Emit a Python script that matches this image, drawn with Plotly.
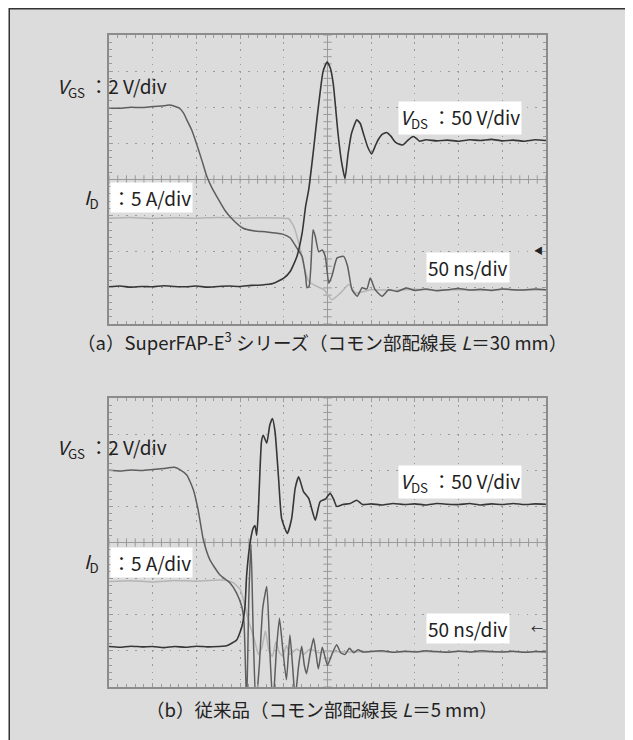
import numpy as np
import plotly.graph_objects as go

# ---------------- data (divisions) ----------------
# (a) SuperFAP-E3
T_VDS_A = [0,0.25,0.5,0.75,1,1.25,1.5,1.75,2,2.25,2.5,2.75,3,3.25,3.5,3.75,4.0,4.15,4.3,4.42,4.5,4.57,4.68,4.76,4.83,4.9,4.99,5.06,5.13,5.24,5.32,5.4,5.47,5.55,5.67,5.75,5.82,5.92,6.01,6.1,6.16,6.25,6.35,6.45,6.54,6.63,6.73,6.85,6.96,7.05,7.11,7.25,7.5,7.75,8,8.25,8.5,8.75,9,9.25,9.5,9.75,10]
V_VDS_A = [1.03,1.05,1.02,1.04,1.03,1.06,1.04,1.03,1.05,1.02,1.04,1.05,1.04,1.07,1.08,1.12,1.27,1.46,1.87,2.52,3.26,3.72,4.82,5.7,6.4,7.0,7.25,7.1,6.67,5.28,4.5,4.03,4.7,5.28,5.65,5.55,5.28,4.9,4.71,4.95,5.1,5.25,5.3,5.2,5.05,4.98,4.96,5.1,5.19,5.12,5.06,5.1,5.07,5.09,5.06,5.1,5.08,5.11,5.07,5.09,5.06,5.1,5.08]

T_VGS_A = [0,0.25,0.5,0.75,1,1.25,1.38,1.5,1.6,1.7,1.78,1.9,2.0,2.12,2.24,2.35,2.47,2.65,2.84,3.07,3.3,3.61,3.8,3.99,4.15,4.3,4.42,4.5,4.53,4.58,4.62,4.67,4.72,4.8,4.88,4.95,5.03,5.1,5.22,5.37,5.46,5.56,5.68,5.79,5.9,5.98,6.09,6.25,6.4,6.6,6.8,7,7.25,7.5,7.75,8,8.25,8.5,8.75,9,9.25,9.5,9.75,10]
V_VGS_A = [5.98,5.97,6.0,5.99,6.02,6.04,6.06,6.03,5.98,5.85,5.65,5.35,5.0,4.55,4.08,3.78,3.52,3.15,2.88,2.65,2.58,2.55,2.52,2.48,2.38,2.1,1.87,1.32,1.0,1.05,1.6,2.61,2.43,2.0,2.05,1.87,1.13,1.32,1.83,1.87,1.6,0.95,0.77,1.0,0.97,1.27,0.95,0.77,0.95,0.9,1.0,0.93,0.97,0.92,0.95,0.98,0.94,0.96,0.93,0.97,0.95,0.94,0.97,0.95]

T_ID_A = [0,0.5,1,1.5,2,2.5,3,3.5,4.0,4.11,4.23,4.34,4.46,4.57,4.76,4.92,5.1,5.3,5.49,5.64,5.83,6.0,6.5,7,7.5,8,8.5,9,9.5,10]
V_ID_A = [2.93,2.95,2.92,2.94,2.93,2.95,2.93,2.94,2.93,2.92,2.7,2.25,1.6,1.18,1.04,0.95,0.67,0.86,1.09,0.86,0.9,0.95,0.93,0.96,0.94,0.95,0.93,0.96,0.94,0.95]

# (b) conventional
T_VDS_B = [0,0.25,0.5,0.75,1,1.25,1.5,1.75,2,2.25,2.5,2.69,2.92,3.04,3.11,3.15,3.23,3.3,3.34,3.38,3.42,3.49,3.53,3.61,3.68,3.74,3.80,3.88,3.95,4.08,4.18,4.26,4.34,4.45,4.57,4.72,4.83,4.95,5.06,5.14,5.21,5.35,5.52,5.67,5.8,6.0,6.25,6.5,6.75,7,7.25,7.5,7.75,8,8.25,8.5,8.75,9,9.25,9.5,9.75,10]
V_VDS_B = [1.12,1.1,1.13,1.11,1.12,1.09,1.12,1.1,1.13,1.11,1.12,1.14,1.3,1.67,2.2,3.1,4.0,4.4,4.47,4.2,4.95,6.8,6.97,6.75,7.25,7.43,7.06,5.78,4.67,4.25,4.67,5.5,5.82,5.41,5.22,4.62,5.13,5.2,5.36,5.2,5.0,5.05,5.08,5.17,5.05,5.07,5.04,5.08,5.05,5.07,5.04,5.08,5.06,5.05,5.08,5.04,5.07,5.05,5.08,5.05,5.07,5.06]

T_VGS_B = [0,0.25,0.5,0.75,1,1.25,1.5,1.62,1.78,1.93,2.04,2.16,2.31,2.54,2.77,2.92,3.04,3.09,3.15,3.2,3.25,3.3,3.36,3.44,3.52,3.61,3.68,3.75,3.83,3.9,3.98,4.06,4.14,4.2,4.26,4.34,4.41,4.47,4.52,4.6,4.68,4.74,4.79,4.88,4.95,5.0,5.1,5.21,5.3,5.4,5.5,5.6,5.7,5.8,6,6.25,6.5,6.75,7,7.25,7.5,7.75,8,8.25,8.5,8.75,9,9.25,9.5,9.75,10]
V_VGS_B = [6.0,5.98,6.01,5.99,6.02,6.05,6.08,6.02,5.87,5.46,4.9,4.07,3.52,3.1,2.88,2.6,2.22,1.78,-0.5,2.5,3.95,1.5,-0.5,0.6,2.2,2.78,1.0,-0.5,1.0,1.9,1.0,0.2,1.44,0.6,-0.3,0.6,1.13,0.6,0.37,0.9,1.35,0.9,0.5,1.1,0.8,0.6,0.9,1.17,0.95,0.9,1.07,0.95,1.03,0.97,0.98,1.0,0.96,0.99,0.97,1.0,0.98,0.96,0.99,0.97,1.0,0.98,0.97,0.99,0.96,0.98,0.97]

T_ID_B = [0,0.5,1,1.5,2,2.5,2.69,2.85,3.0,3.1,3.2,3.28,3.35,3.42,3.5,3.58,3.66,3.74,3.82,3.9,3.98,4.06,4.14,4.3,4.45,4.6,4.8,5.0,5.5,6,6.5,7,7.5,8,8.5,9,9.5,10]
V_ID_B = [2.92,2.94,2.91,2.95,2.93,2.96,2.95,2.88,2.7,2.3,1.8,1.5,1.2,0.9,1.1,1.55,1.0,0.85,1.25,0.95,0.85,1.15,0.9,1.05,0.9,1.05,0.95,0.98,0.97,0.99,0.96,0.98,0.97,0.99,0.96,0.98,0.97,0.98]

CAPTION_A = "（a）SuperFAP-E<sup>3</sup> シリーズ（コモン部配線長 <i>L</i>＝30 mm）"
CAPTION_B = "（b）従来品（コモン部配線長 <i>L</i>＝5 mm）"

# ---------------- layout helpers ----------------
OFF = 8                      # page body margin of the html page
W, H = 633 - OFF, 740 - OFF
FONT = "Noto Sans CJK JP"
def px(x): return (x - OFF) / W
def py(y): return 1 - (y - OFF) / H

C_VDS, C_VGS, C_ID = "#363636", "#5e5e5e", "#b4b4b4"
GRID = "#9a9a9a"

fig = go.Figure()

panels = [("x", "y", T_VDS_A, V_VDS_A, T_VGS_A, V_VGS_A, T_ID_A, V_ID_A),
          ("x2", "y2", T_VDS_B, V_VDS_B, T_VGS_B, V_VGS_B, T_ID_B, V_ID_B)]

ticks_x = np.round(np.arange(0, 10.001, 0.2), 2)
ticks_y = np.round(np.arange(0, 8.001, 0.2), 2)

for xa, ya, tv, vv, tg, vg, ti, vi in panels:
    # centre graticule ticks
    fig.add_trace(go.Scatter(x=ticks_x, y=[4]*len(ticks_x), xaxis=xa, yaxis=ya, mode="markers",
                             marker=dict(symbol="line-ns", size=6, line=dict(color=GRID, width=1)),
                             hoverinfo="skip", showlegend=False))
    fig.add_trace(go.Scatter(x=[5]*len(ticks_y), y=ticks_y, xaxis=xa, yaxis=ya, mode="markers",
                             marker=dict(symbol="line-ew", size=6, line=dict(color=GRID, width=1)),
                             hoverinfo="skip", showlegend=False))
    fig.add_trace(go.Scatter(x=ti, y=vi, xaxis=xa, yaxis=ya, mode="lines",
                             line=dict(color=C_ID, width=1.5, shape="spline", smoothing=0.5),
                             showlegend=False))
    fig.add_trace(go.Scatter(x=tg, y=vg, xaxis=xa, yaxis=ya, mode="lines",
                             line=dict(color=C_VGS, width=1.5, shape="spline", smoothing=0.5),
                             showlegend=False))
    fig.add_trace(go.Scatter(x=tv, y=vv, xaxis=xa, yaxis=ya, mode="lines",
                             line=dict(color=C_VDS, width=1.6, shape="spline", smoothing=0.5),
                             showlegend=False))
    fig.add_shape(type="line", xref=xa, yref=ya, x0=5, x1=5, y0=0, y1=8,
                  line=dict(color=GRID, width=1), layer="below")
    fig.add_shape(type="line", xref=xa, yref=ya, x0=0, x1=10, y0=4, y1=4,
                  line=dict(color=GRID, width=1), layer="below")

xd = [px(109), px(546)]
yd_a = [py(324), py(35)]
yd_b = [py(687), py(398)]

def xax(anchor):
    return dict(domain=xd, range=[0, 10], anchor=anchor, dtick=1, showticklabels=False,
                showgrid=True, gridcolor=GRID, gridwidth=1, griddash="1.5px,5.7px",
                zeroline=False, showline=True, linecolor="#8c8c8c", linewidth=1.5, mirror="allticks",
                ticks="inside", ticklen=4, tickcolor=GRID,
                minor=dict(dtick=0.2, ticks="inside", ticklen=3, tickcolor=GRID, showgrid=False),
                fixedrange=True)

def yax(anchor, dom):
    return dict(domain=dom, range=[0, 8], anchor=anchor, dtick=1, showticklabels=False,
                showgrid=True, gridcolor=GRID, gridwidth=1, griddash="1.5px,7.2px",
                zeroline=False, showline=True, linecolor="#8c8c8c", linewidth=1.5, mirror="allticks",
                ticks="inside", ticklen=4, tickcolor=GRID,
                minor=dict(dtick=0.2, ticks="inside", ticklen=3, tickcolor=GRID, showgrid=False),
                fixedrange=True)

fig.update_layout(
    width=W, height=H, margin=dict(l=0, r=0, t=0, b=0),
    paper_bgcolor="white", plot_bgcolor="white",
    font=dict(family=FONT, color="#222"),
    xaxis=xax("y"), yaxis=yax("x", yd_a),
    xaxis2=xax("y2"), yaxis2=yax("x2", yd_b),
    showlegend=False,
)

# background panel
fig.add_shape(type="rect", xref="paper", yref="paper", x0=0.002, x1=1.02, y0=-0.02, y1=0.999,
              fillcolor="#dcdcdc", line=dict(color="#333", width=1.5), layer="below")

ann = []
def label(text, x, y, xanchor="left", size=19, bg=None):
    d = dict(text=text, x=px(x), y=py(y), xref="paper", yref="paper", showarrow=False,
             xanchor=xanchor, yanchor="middle", font=dict(size=size, family=FONT, color="#222"),
             borderpad=1)
    if bg:
        d["bgcolor"] = bg
    ann.append(d)

for dy, (vgs, idl, vds, ns, arr) in enumerate([(87, 198, 118, 268, 250), (448, 562, 482, 628, 628)]):
    label("<i>V</i><sub>GS</sub> ：2 V/div", 55, vgs)
    label("<i>I</i><sub>D</sub>", 82, idl)
    label("：5 A/div", 110, idl, bg="white")
    label("<i>V</i><sub>DS</sub> ：50 V/div", 398, vds, bg="white")
    label("50 ns/div", 426, ns, bg="white")
    label("◀" if dy == 0 else "←", 545, arr, xanchor="right", size=9 if dy == 0 else 12)

label(CAPTION_A, 322, 341, xanchor="center", size=18.5)
label(CAPTION_B, 322, 709, xanchor="center", size=18.5)
fig.update_layout(annotations=ann)

fig.write_html("out.html")
